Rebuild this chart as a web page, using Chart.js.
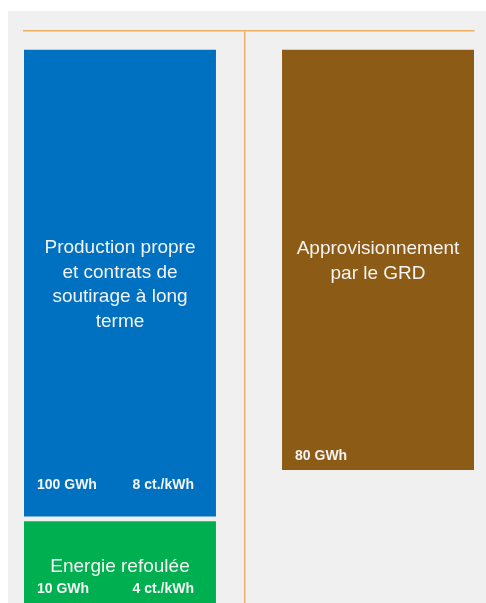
<!DOCTYPE html>
<html>
<head>
<meta charset="utf-8">
<script src="https://cdn.jsdelivr.net/npm/chart.js@4"></script>
<style>
  html, body { margin: 0; padding: 0; background: #ffffff; }
  #panel { position: absolute; left: 8px; top: 11px; right: 0; bottom: 0; background: #f0f0f0; }
  #chart { position: absolute; left: 0; top: 0; }
</style>
</head>
<body>
<div id="panel"></div>
<canvas id="chart" width="486" height="603"></canvas>
<script>
// Blocks of the supply diagram (column 0 = own supply, column 1 = GRD)
const blockNames = [
    ['Production propre', 'et contrats de', 'soutirage à long', 'terme'],
    ['Approvisionnement', 'par le GRD'],
    ['Energie refoulée']
];
const blockColumn = [0, 1, 0];
const blockStart = [0, 0, 101];
const blockEnd = [100, 90, 120];
const blockEnergy = ['100 GWh', '80 GWh', '10 GWh'];
const blockPrice = ['8 ct./kWh', '', '4 ct./kWh'];
const dividerAt = 0.485;

// styles
const blockColors = ['#0070c0', '#8c5b15', '#00b050'];
const lineColor = '#e9b063';
const labelInset = [31, 13.5, 21];

const blockLabels = {
    id: 'blockLabels',
    afterDatasetsDraw(chart) {
        const ctx = chart.ctx;
        const meta = chart.getDatasetMeta(0);
        const area = chart.chartArea;
        ctx.save();
        ctx.beginPath();
        ctx.rect(area.left, area.top, area.right - area.left, area.bottom - area.top);
        ctx.clip();
        ctx.fillStyle = '#f4f4f4';
        meta.data.forEach((bar, i) => {
            const p = bar.getProps(['x', 'y', 'base', 'width'], true);
            const left = p.x - p.width / 2;
            const right = p.x + p.width / 2;
            const top = Math.min(p.y, p.base);
            const bottom = Math.max(p.y, p.base);
            const mid = (top + bottom) / 2;

            // block name, centred
            const size = 19, lh = 24.4;
            ctx.font = size + 'px "Liberation Sans", Arial, sans-serif';
            ctx.textAlign = 'center';
            ctx.textBaseline = 'alphabetic';
            const lines = blockNames[i];
            lines.forEach((line, k) => {
                const y = mid - (lines.length - 1) / 2 * lh + k * lh + size * 0.36;
                ctx.fillText(line, p.x, y);
            });

            // energy and price at the bottom
            ctx.font = 'bold 14px "Liberation Sans", Arial, sans-serif';
            ctx.textBaseline = 'middle';
            const ly = bottom - labelInset[i];
            ctx.textAlign = 'left';
            ctx.fillText(blockEnergy[i], left + 13, ly);
            ctx.textAlign = 'right';
            ctx.fillText(blockPrice[i], right - 22, ly);
        });
        ctx.restore();
    }
};

new Chart(document.getElementById('chart'), {
    type: 'bar',
    data: {
        datasets: [{
            data: blockColumn.map((c, i) => ({ x: c, y: [blockStart[i], blockEnd[i]] })),
            backgroundColor: blockColors,
            borderWidth: 0,
            categoryPercentage: 0.744,
            barPercentage: 1
        }]
    },
    options: {
        responsive: false,
        animation: false,
        devicePixelRatio: 1,
        layout: { padding: { top: 31, left: 24, right: 12, bottom: 0 } },
        plugins: { legend: { display: false }, tooltip: { enabled: false } },
        scales: {
            x: {
                type: 'linear',
                position: 'top',
                offset: false,
                min: -0.372,
                max: 1.372,
                afterBuildTicks: (scale) => { scale.ticks = [{ value: dividerAt }]; },
                ticks: { display: false },
                grid: { offset: false, drawTicks: false, color: lineColor, lineWidth: 1.5 },
                border: { display: true, color: lineColor, width: 1.5 }
            },
            y: {
                display: false,
                reverse: true,
                min: -4,
                max: 118.5
            }
        }
    },
    plugins: [blockLabels]
});
</script>
</body>
</html>
